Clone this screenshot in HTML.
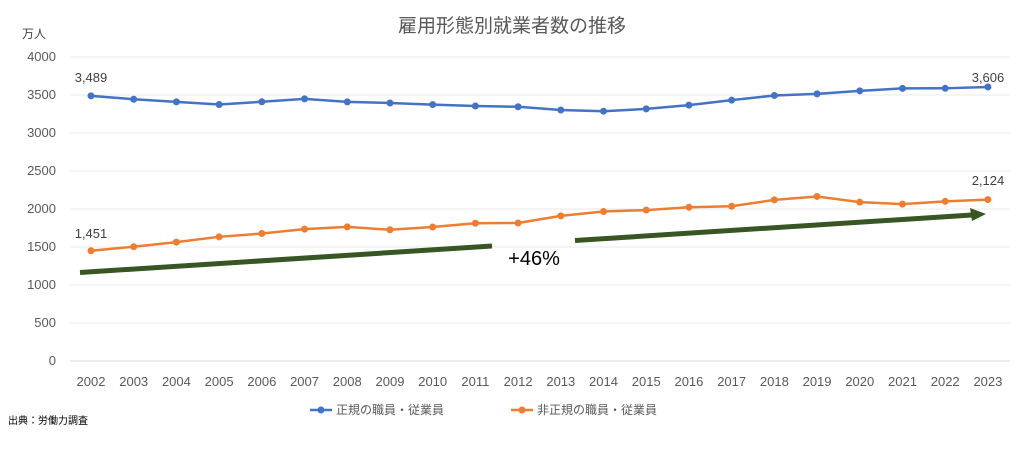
<!DOCTYPE html>
<html><head><meta charset="utf-8"><style>
body{margin:0;background:#fff;}
svg text{font-family:"Liberation Sans","Noto Sans CJK JP",sans-serif;}
</style></head><body>
<svg width="1024" height="446" viewBox="0 0 1024 446" xmlns="http://www.w3.org/2000/svg">
<rect width="1024" height="446" fill="#fff"/>
<text x="512" y="32" font-size="19" fill="#595959" text-anchor="middle">雇用形態別就業者数の推移</text>
<text x="22" y="38" font-size="12" fill="#404040">万人</text>
<g id="grid"></g>
<g font-size="13" fill="#595959" text-anchor="end" id="ylab"></g>
<g font-size="13" fill="#595959" text-anchor="middle" id="xlab"></g>
<line x1="70" y1="361" x2="1010" y2="361" stroke="#d9d9d9"/>
<line x1="80" y1="272.5" x2="492" y2="246" stroke="#375623" stroke-width="5"/>
<line x1="575" y1="240.5" x2="972" y2="215" stroke="#375623" stroke-width="5"/>
<polygon points="986,214 970,208 972,221" fill="#375623"/>
<text x="534" y="265" font-size="20" fill="#000" text-anchor="middle">+46%</text>
<polyline id="blue" fill="none" stroke="#4472c4" stroke-width="2.5"/>
<g id="bm" fill="#4472c4"></g>
<polyline id="orange" fill="none" stroke="#ed7d31" stroke-width="2.5"/>
<g id="om" fill="#ed7d31"></g>
<g font-size="13" fill="#404040" text-anchor="middle">
<text x="91" y="82">3,489</text><text x="988" y="82">3,606</text>
<text x="91" y="238">1,451</text><text x="988" y="185">2,124</text>
</g>
<line x1="310" y1="410" x2="332" y2="410" stroke="#4472c4" stroke-width="2.5"/><circle cx="321" cy="410" r="3.5" fill="#4472c4"/>
<text x="336" y="414" font-size="12" fill="#595959">正規の職員・従業員</text>
<line x1="511" y1="410" x2="533" y2="410" stroke="#ed7d31" stroke-width="2.5"/><circle cx="522" cy="410" r="3.5" fill="#ed7d31"/>
<text x="537" y="414" font-size="12" fill="#595959">非正規の職員・従業員</text>
<text x="8" y="424" font-size="10" fill="#000">出典：労働力調査</text>
<script>
var ns="http://www.w3.org/2000/svg";
function el(t,a,p,tx){var e=document.createElementNS(ns,t);for(var k in a)e.setAttribute(k,a[k]);if(tx)e.textContent=tx;document.getElementById(p).appendChild(e);return e;}
function Y(v){return 361-v*0.076;}
function X(i){return 91+i*42.71;}
for(var v=500;v<=4000;v+=500){el('line',{x1:70,x2:1010,y1:Y(v),y2:Y(v),stroke:'#e8e8e8'},'grid');}
for(var v=0;v<=4000;v+=500){el('text',{x:56,y:Y(v)+4},'ylab',String(v));}
for(var i=0;i<22;i++){el('text',{x:X(i),y:386},'xlab',String(2002+i));}
var b=[3489,3444,3410,3375,3411,3449,3410,3395,3374,3355,3345,3302,3287,3317,3367,3432,3494,3515,3555,3587,3588,3606];
var o=[1451,1504,1564,1634,1677,1735,1765,1727,1763,1813,1816,1910,1967,1986,2023,2036,2120,2165,2090,2064,2101,2124];
function draw(d,l,m){var p=[];d.forEach(function(v,i){p.push(X(i)+','+Y(v));el('circle',{cx:X(i),cy:Y(v),r:3.5},m);});document.getElementById(l).setAttribute('points',p.join(' '));}
draw(b,'blue','bm');draw(o,'orange','om');
</script>
</svg>
</body></html>
